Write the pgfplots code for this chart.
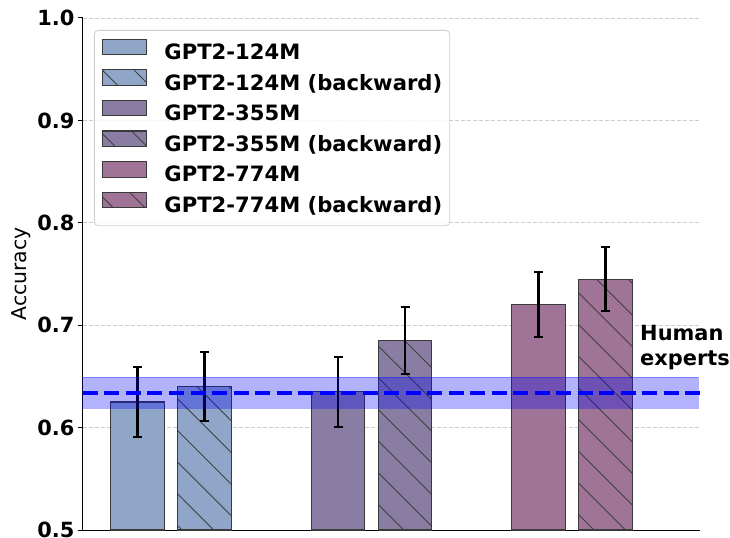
\documentclass[border=0pt]{standalone}
\usepackage{fontspec}
\setmainfont{DejaVu Sans}
\usepackage{pgfplots}
\pgfplotsset{compat=1.18}
\usetikzlibrary{patterns.meta}

\definecolor{cA}{HTML}{8FA6C8}
\definecolor{cB}{HTML}{8A7DA3}
\definecolor{cC}{HTML}{A07496}
\definecolor{edge}{HTML}{3A3A3A}

\pgfplotsset{
  mybar/.style={ybar, bar shift=0pt, bar width=0.267, fill=#1, draw=edge, line width=1.1bp,
    error bars/.cd, y dir=both, y explicit,
    error bar style={line width=2.2bp, black},
    error mark options={rotate=90, mark size=4.5bp, line width=2bp, black},
    /pgfplots/.cd,
    legend image code/.code={\draw[##1, /tikz/.cd, sharp corners, fill opacity=1, draw opacity=1, line width=1.1bp] (0bp,-0.5bp) rectangle (44bp,15bp); \path (61.5bp,0bp);}},
  hatch/.style={postaction={pattern={Lines[angle=-45,distance=22.4bp,line width=0.9bp]}, pattern color=black!75}},
}

\begin{document}
\begin{tikzpicture}
\begin{axis}[
  name=ax,
  scale only axis,
  clip=false,
  width=617bp, height=512bp,
  xmin=-0.439, xmax=2.638,
  ymin=0.5, ymax=1.0,
  axis x line*=bottom, axis y line*=left,
  every outer x axis line/.append style={-, line width=1bp},
  every outer y axis line/.append style={-, line width=1bp},
  xtick=\empty,
  ytick={0.5,0.6,0.7,0.8,0.9,1.0},
  tick align=outside,
  major tick length=5bp,
  every tick/.style={black, line width=1bp},
  yticklabel style={font=\bfseries\fontsize{21}{25}\selectfont, /pgf/number format/.cd, fixed, fixed zerofill, precision=1, assume math mode=true},
  ymajorgrids,
  grid style={dash pattern=on 4bp off 2bp, gray!40, line width=0.8bp},
  legend cell align=left,
  legend style={at={(0.0178,0.9766)}, anchor=north west, draw=black!20, rounded corners=4bp,
    fill=white, fill opacity=0.85, text opacity=1, line width=0.8bp,
    font=\bfseries\fontsize{21.2}{25}\selectfont, inner xsep=7.5bp, inner ysep=8.3bp, row sep=4.8bp,
    nodes={inner sep=0pt, text height=15.5bp, text depth=5bp}},
]
\addplot[mybar=cA] coordinates {(-0.167,0.625) +- (0,0.034)};
\addlegendentry{GPT2-124M}
\addplot[mybar=cA, hatch] coordinates {(0.167,0.640) +- (0,0.034)};
\addlegendentry{GPT2-124M (backward)}
\addplot[mybar=cB] coordinates {(0.833,0.635) +- (0,0.034)};
\addlegendentry{GPT2-355M}
\addplot[mybar=cB, hatch] coordinates {(1.167,0.685) +- (0,0.033)};
\addlegendentry{GPT2-355M (backward)}
\addplot[mybar=cC] coordinates {(1.833,0.720) +- (0,0.032)};
\addlegendentry{GPT2-774M}
\addplot[mybar=cC, hatch] coordinates {(2.167,0.745) +- (0,0.031)};
\addlegendentry{GPT2-774M (backward)}

% human experts band and mean
\addplot[forget plot, fill=blue, fill opacity=0.3, draw=blue, draw opacity=0.3, line width=1bp]
  coordinates {(-0.439,0.619) (2.63,0.619) (2.63,0.649) (-0.439,0.649)} -- cycle;
\addplot[forget plot, blue, line width=4bp, dash pattern=on 15bp off 6.5bp]
  coordinates {(-0.439,0.634) (2.638,0.634)};

\node[anchor=north west, align=left, inner sep=0pt, font=\bfseries\fontsize{21}{25}\selectfont]
  at (axis cs:2.339,0.700) {Human\\experts};
\end{axis}
\node[rotate=90, anchor=north, inner sep=0pt, font=\fontsize{20.5}{24}\selectfont]
  at ([xshift=-71.5bp]ax.west) {Accuracy};
\pgfresetboundingbox
\path ([xshift=-83bp,yshift=-8bp]ax.south west) rectangle ([xshift=30bp,yshift=18bp]ax.north east);
\end{tikzpicture}
\end{document}
